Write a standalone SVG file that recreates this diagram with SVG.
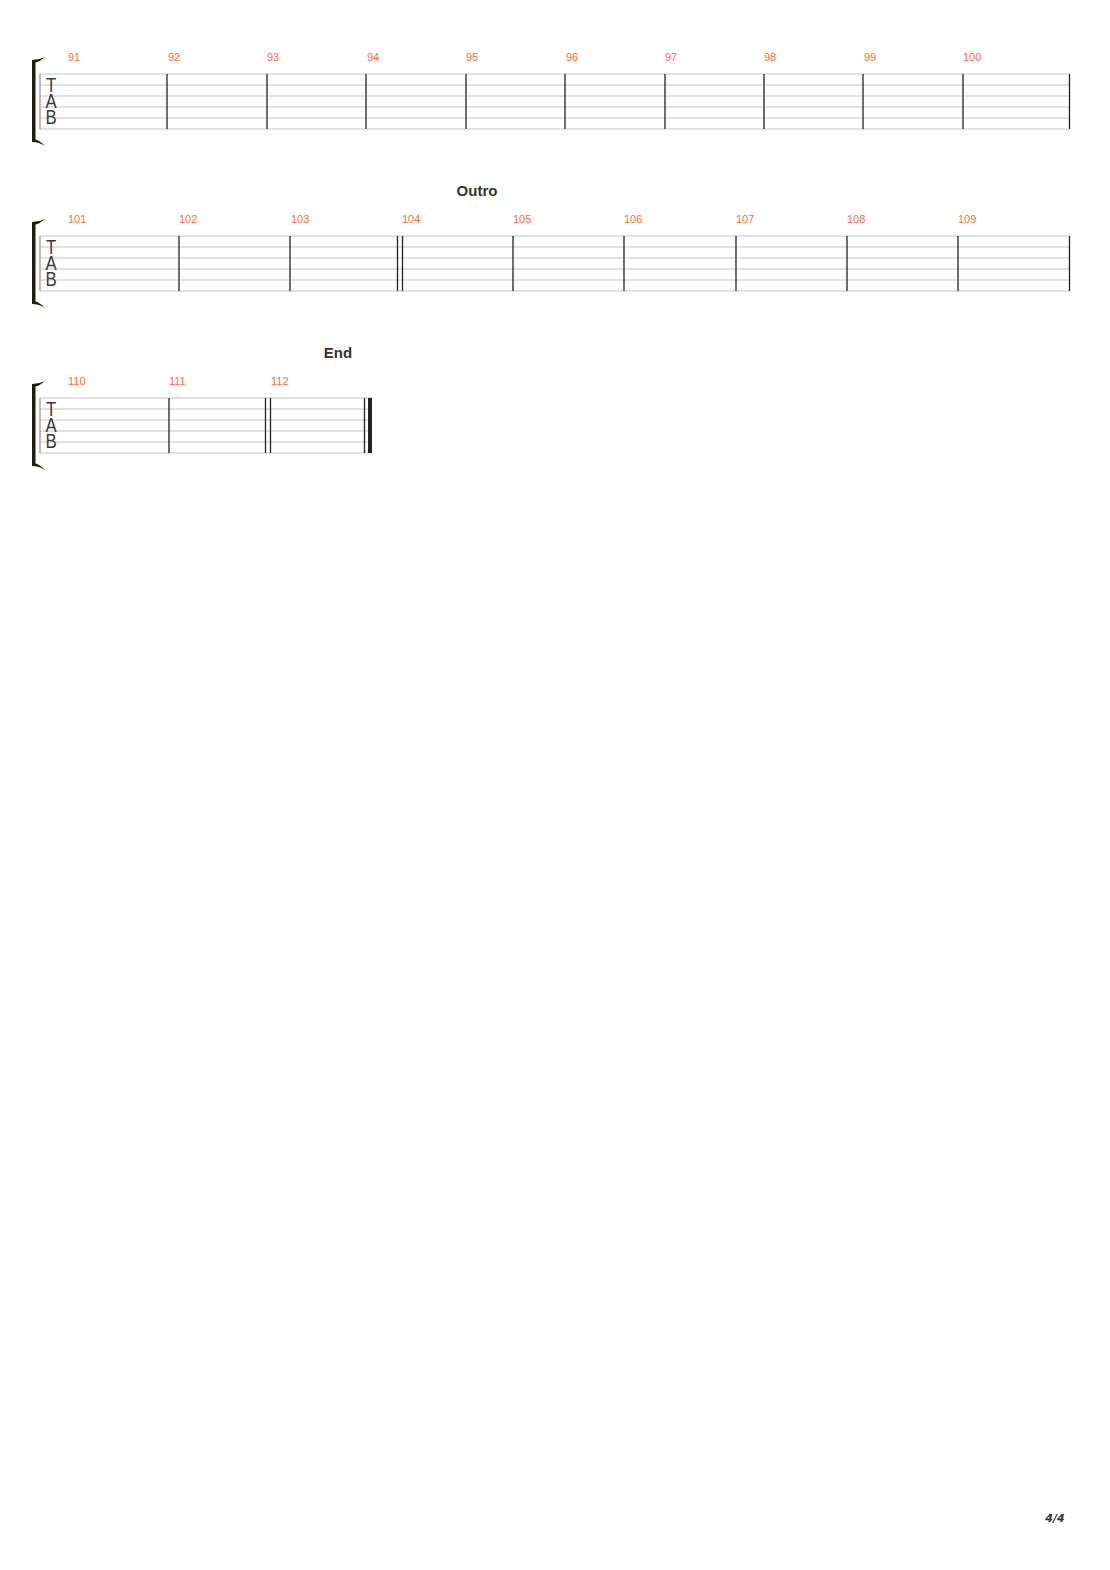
<svg xmlns="http://www.w3.org/2000/svg" xmlns:xlink="http://www.w3.org/1999/xlink" width="1110" height="1570" viewBox="0 0 1110 1570">
<style>
.sl{stroke:#c4c4c4;stroke-width:1;fill:none}
.bl{stroke:#222;stroke-width:1.3;fill:none}
.lv{stroke:#aaa;stroke-width:1.6;fill:none}
.num{font-family:"Liberation Sans",Arial,sans-serif;font-size:11px;fill:#ff6a3c}
.tab{font-family:"Liberation Sans",Arial,sans-serif;font-size:21px;fill:#3a3a3a;text-anchor:middle}
.sec{font-family:"Liberation Sans",Arial,sans-serif;font-size:15px;font-weight:bold;fill:#333;text-anchor:middle}
.pg{font-family:"DejaVu Sans",sans-serif;font-size:11px;font-weight:bold;font-style:italic;fill:#333;text-anchor:middle}
</style>
<defs>
<path id="brk" d="M32,-14 L32,68 Q39,68 45,72 Q39,66 35.5,65.5 L35.5,-11.5 Q39,-12 45,-17 Q39,-14 32,-14 Z" fill="#1f1f10"/>
<g id="clef">
<path class="lv" d="M40,0 V55"/>
<g transform="translate(51,0) scale(0.8,1)">
<text class="tab" x="0" y="18">T</text>
<text class="tab" x="0" y="34">A</text>
<text class="tab" x="0" y="50">B</text>
</g>
</g>
</defs>
<rect width="1110" height="1570" fill="#fff"/>

<g id="system1" transform="translate(0,74)">
<use xlink:href="#brk"/>
<g class="sl">
<path d="M40,0H1070M40,11H1070M40,22H1070M40,33H1070M40,44H1070M40,55H1070"/>
</g>
<use xlink:href="#clef"/>
<path class="bl" d="M167,0V55M267,0V55M366,0V55M466,0V55M565,0V55M665,0V55M764,0V55M863,0V55M963,0V55M1069.5,0V55"/>
<g>
<text class="num" x="68" y="-13">91</text>
<text class="num" x="168" y="-13">92</text>
<text class="num" x="267" y="-13">93</text>
<text class="num" x="367" y="-13">94</text>
<text class="num" x="466" y="-13">95</text>
<text class="num" x="566" y="-13">96</text>
<text class="num" x="665" y="-13">97</text>
<text class="num" x="764" y="-13">98</text>
<text class="num" x="864" y="-13">99</text>
<text class="num" x="963" y="-13">100</text>
</g>
</g>

<g id="system2" transform="translate(0,236)">
<use xlink:href="#brk"/>
<g class="sl">
<path d="M40,0H1070M40,11H1070M40,22H1070M40,33H1070M40,44H1070M40,55H1070"/>
</g>
<use xlink:href="#clef"/>
<path class="bl" d="M179,0V55M290,0V55M397.5,0V55M402.5,0V55M513,0V55M624,0V55M736,0V55M847,0V55M958,0V55M1069.5,0V55"/>
<text class="sec" x="477" y="-40">Outro</text>
<g>
<text class="num" x="68" y="-13">101</text>
<text class="num" x="179" y="-13">102</text>
<text class="num" x="291" y="-13">103</text>
<text class="num" x="402" y="-13">104</text>
<text class="num" x="513" y="-13">105</text>
<text class="num" x="624" y="-13">106</text>
<text class="num" x="736" y="-13">107</text>
<text class="num" x="847" y="-13">108</text>
<text class="num" x="958" y="-13">109</text>
</g>
</g>

<g id="system3" transform="translate(0,398)">
<use xlink:href="#brk"/>
<g class="sl">
<path d="M40,0H372M40,11H372M40,22H372M40,33H372M40,44H372M40,55H372"/>
</g>
<use xlink:href="#clef"/>
<path class="bl" d="M169,0V55M265.5,0V55M270.5,0V55M364.5,0V55"/>
<rect x="368" y="0" width="4" height="55" fill="#222"/>
<text class="sec" x="338" y="-40">End</text>
<g>
<text class="num" x="68" y="-13">110</text>
<text class="num" x="169" y="-13">111</text>
<text class="num" x="271" y="-13">112</text>
</g>
</g>

<text class="pg" x="1055" y="1522">4/4</text>
</svg>
